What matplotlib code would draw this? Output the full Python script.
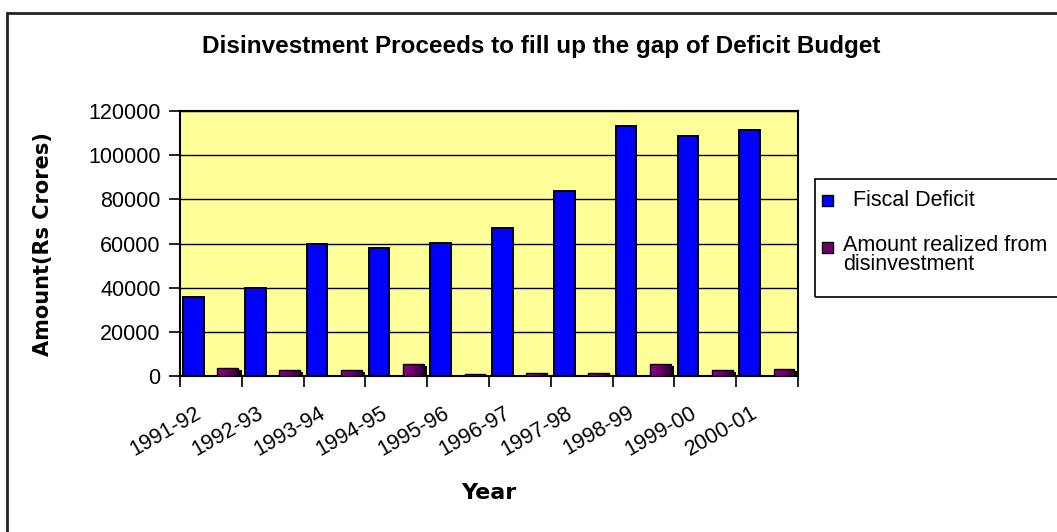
import numpy as np
import matplotlib.pyplot as plt
import matplotlib.transforms as mtransforms
from matplotlib.colors import LinearSegmentedColormap
from matplotlib.patches import Rectangle

plt.rcParams['font.family'] = ['Liberation Sans', 'DejaVu Sans']

years = ['1991-92', '1992-93', '1993-94', '1994-95', '1995-96',
         '1996-97', '1997-98', '1998-99', '1999-00', '2000-01']
fiscal_deficit = [35900, 39700, 60000, 57900, 60100, 66800, 84000, 113200, 108700, 111300]
disinvestment = [3500, 2700, 2700, 5600, 1100, 1200, 1200, 5600, 2700, 3200]
y_ticks = [0, 20000, 40000, 60000, 80000, 100000, 120000]

W, H = 1057, 532
fig = plt.figure(figsize=(W / 100, H / 100), dpi=100)
fig.patch.set_facecolor('white')

# plot area in pixels: x 180..798, y 111..376
ax = fig.add_axes([180 / W, 1 - 376 / H, 618 / W, 265 / H])
ax.set_facecolor('#FFFF99')

x = np.arange(len(years))
bw = 0.335
blue_x = x - 0.282
purple_x = x + 0.273

ax.bar(blue_x, fiscal_deficit, width=bw, color='#0000FF', edgecolor='black',
       linewidth=1.4, zorder=3)

# shadow behind the purple bars
shadow_h = [max(v - 900, 0) for v in disinvestment]
ax.bar(purple_x + 0.055, shadow_h, width=bw, color='black', linewidth=0, zorder=2.5)

purple_bars = ax.bar(purple_x, disinvestment, width=bw, facecolor='none',
                     edgecolor='black', linewidth=1.0, zorder=4)
purple_cmap = LinearSegmentedColormap.from_list('purp', ['#8a008a', '#6a006a', '#300030'])
grad = np.linspace(0, 1, 64).reshape(1, -1)
for bar in purple_bars:
    x0, y0 = bar.get_x(), bar.get_y()
    im = ax.imshow(grad, cmap=purple_cmap, aspect='auto', interpolation='bilinear',
                   extent=(x0, x0 + bar.get_width(), y0, y0 + bar.get_height()), zorder=3.5)
    im.set_clip_path(bar)

ax.set_xlim(-0.5, len(years) - 0.5)
ax.set_ylim(0, 120000)
ax.set_yticks(y_ticks)
ax.set_yticklabels([str(t) for t in y_ticks])
ax.yaxis.grid(True, color='black', linewidth=1.0)
ax.set_axisbelow(True)

# tick marks between categories, labels at category centres
ax.set_xticks(np.arange(-0.5, len(years), 1.0))
ax.set_xticklabels([])
ax.set_xticks(x, minor=True)
ax.tick_params(axis='x', which='major', length=8, width=1.2, direction='out')
ax.tick_params(axis='x', which='minor', length=0, pad=19)
ax.tick_params(axis='y', length=8, width=1.2, direction='out', labelsize=15.5, pad=6)
ax.set_xticklabels(years, minor=True, rotation=30, ha='right', va='top',
                   rotation_mode='anchor', fontsize=15.5)
# nudge the rotated labels left (after tick_params, which resets transforms)
shift = mtransforms.ScaledTranslation(-16 / 100, 0, fig.dpi_scale_trans)
for lbl in ax.get_xticklabels(minor=True):
    lbl.set_transform(lbl.get_transform() + shift)

for s in ax.spines.values():
    s.set_color('black')
    s.set_linewidth(1.5)

ax.set_ylabel('Amount(Rs Crores)', family='DejaVu Sans', fontweight='bold',
              fontsize=15)
ax.yaxis.set_label_coords(53 / W, 1 - 244 / H, transform=fig.transFigure)
fig.text(489 / W, 1 - 493 / H, 'Year', family='DejaVu Sans', fontweight='bold',
         fontsize=16, ha='center', va='center')

fig.text(541 / W, 1 - 47 / H, 'Disinvestment Proceeds to fill up the gap of Deficit Budget',
         fontweight='bold', fontsize=17.5, ha='center', va='center')

# outer chart border (runs off the right and bottom edges)
fig.patches.append(Rectangle((7 / W, -0.1), 1.2, 1 - 13 / H + 0.1, transform=fig.transFigure,
                             fill=False, edgecolor='#222222', linewidth=2))

# legend box
fig.patches.append(Rectangle((815 / W, 1 - 297 / H), 0.4, 118 / H, transform=fig.transFigure,
                             fill=False, edgecolor='black', linewidth=1.2))
fig.patches.append(Rectangle((822 / W, 1 - 206 / H), 11 / W, 11 / H, transform=fig.transFigure,
                             facecolor='#0000FF', edgecolor='black', linewidth=1))
fig.patches.append(Rectangle((822 / W, 1 - 253 / H), 11 / W, 11 / H, transform=fig.transFigure,
                             facecolor='#6a006a', edgecolor='black', linewidth=1))
fig.text(847 / W, 1 - 200 / H, ' Fiscal Deficit', fontsize=15.5, va='center')
fig.text(843 / W, 1 - 255 / H, 'Amount realized from\ndisinvestment', fontsize=15.5,
         va='center', linespacing=0.9)

fig.savefig('out.png', dpi=100)
